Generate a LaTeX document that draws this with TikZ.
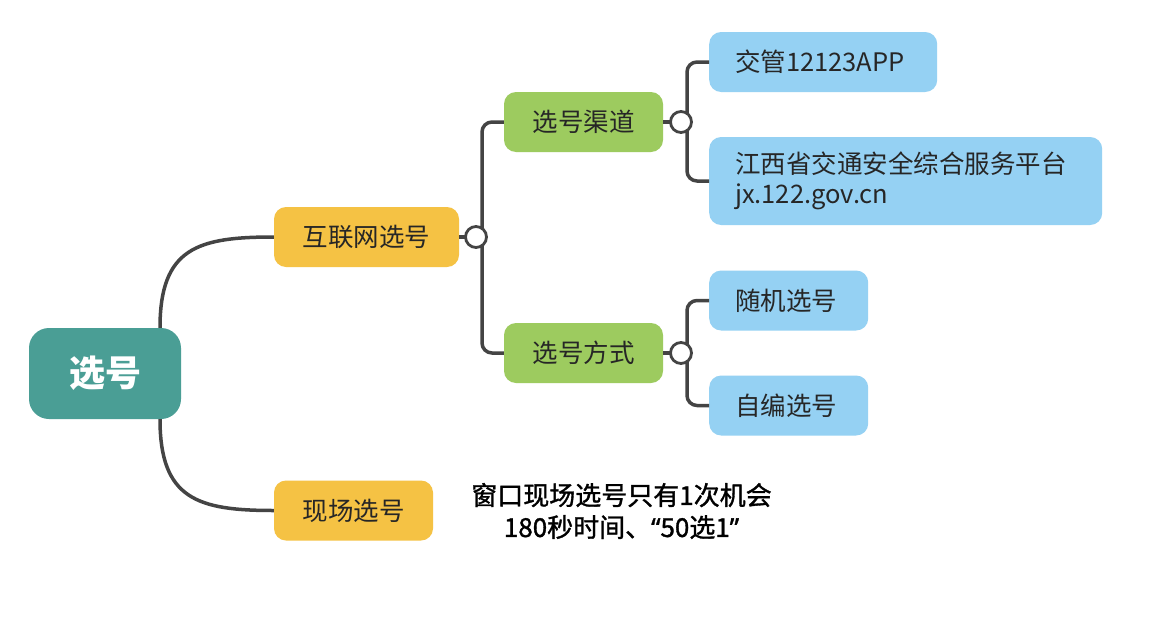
\documentclass[tikz,border=0pt]{standalone}
\usepackage{fontspec}
\setmainfont{Noto Sans CJK SC}
\newfontfamily\cjkmed[FakeBold=1.3]{Noto Sans CJK SC}
\newfontfamily\latq[FakeBold=1.3]{Noto Sans}
\definecolor{tealc}{HTML}{4A9E95}
\definecolor{yelc}{HTML}{F5C244}
\definecolor{grnc}{HTML}{9DCB5F}
\definecolor{bluc}{HTML}{95D1F3}
\definecolor{linec}{HTML}{444444}
\definecolor{txtc}{HTML}{262626}
\tikzset{
  box/.style={rounded corners=12pt, inner sep=0pt, minimum height=60pt,
    font=\fontsize{25.5}{30}\selectfont, text=txtc},
  rootbox/.style={box, fill=tealc, minimum width=152pt, minimum height=91pt,
    rounded corners=20pt, font=\bfseries\fontsize{36}{40}\selectfont, text=white},
  yelbox/.style={box, fill=yelc},
  grnbox/.style={box, fill=grnc, minimum width=159pt},
  blubox/.style={box, fill=bluc, anchor=west, align=left, inner xsep=26pt},
  conn/.style={draw=linec, line width=3.5pt},
  knob/.style={circle, draw=linec, fill=white, line width=2.8pt, minimum size=21pt, inner sep=0pt}
}
\begin{document}
\begin{tikzpicture}[x=1pt,y=-1pt]
\useasboundingbox (0,0) rectangle (1154,629);
\fill[white] (0,0) rectangle (1154,629);

% nodes
\node[rootbox] (root) at (105,373.5) {选号};
\node[yelbox, minimum width=185pt] (net) at (366.5,237) {互联网选号};
\node[yelbox, minimum width=159pt] (site) at (353.5,510.5) {现场选号};
\node[grnbox] (chan) at (583.5,122) {选号渠道};
\node[grnbox] (way) at (583.5,353) {选号方式};
\node[blubox, minimum width=228pt, text width=176pt] (app) at (709,62) {交管12123APP};
\node[blubox, minimum width=393pt, minimum height=88pt, text width=341pt] (jx) at (709,181) {江西省交通安全综合服务平台\\jx.122.gov.cn};
\node[blubox, minimum width=159pt, text width=107pt] (rand) at (709,300.5) {随机选号};
\node[blubox, minimum width=159pt, text width=107pt] (self) at (709,405.5) {自编选号};
\node[align=center, text=black, font=\cjkmed\fontsize{26}{32}\selectfont] (note) at (621.5,511) {窗口现场选号只有1次机会\\180秒时间、{\latq “}50选1{\latq ”}};

% knobs (positions)
\coordinate (k1) at (476,237);
\coordinate (k2) at (681,122);
\coordinate (k3) at (681,353);

% connectors
\draw[conn] ([xshift=55pt]root.north) .. controls +(0,-80) and +(-76,0) .. (net.west);
\draw[conn] ([xshift=55pt]root.south) .. controls +(0,80) and +(-76,0) .. (site.west);
\draw[conn] (net.east) -- (k1);
\draw[conn, rounded corners=10pt] (chan.west) -| (482,237) |- (way.west);
\draw[conn] (chan.east) -- (k2);
\draw[conn, rounded corners=10pt] (app.west) -| (687,122) |- (jx.west);
\draw[conn] (way.east) -- (k3);
\draw[conn, rounded corners=10pt] (rand.west) -| (687,353) |- (self.west);

\node[knob] (c1) at (k1) {};
\node[knob] (c2) at (k2) {};
\node[knob] (c3) at (k3) {};
\end{tikzpicture}
\end{document}
